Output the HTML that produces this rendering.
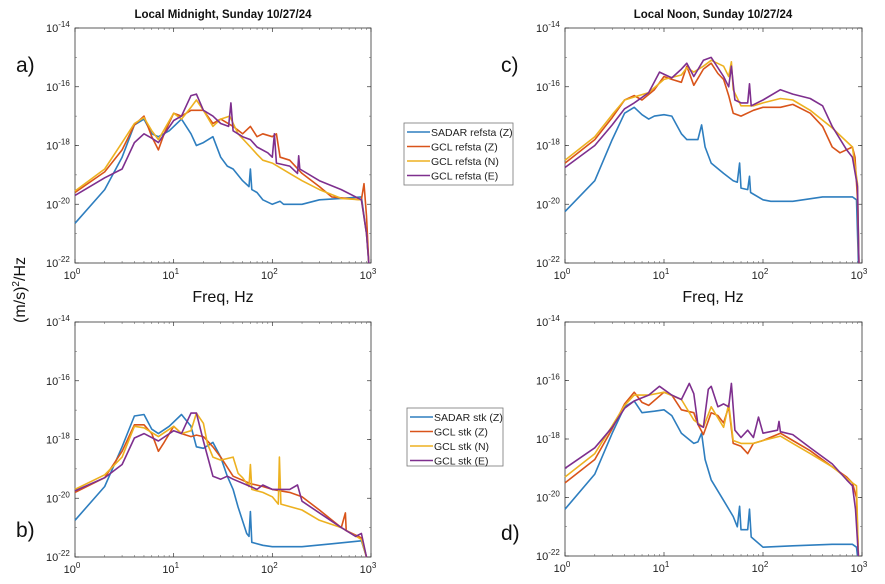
<!DOCTYPE html>
<html><head><meta charset="utf-8"><style>
body{margin:0;background:#fff;width:885px;height:584px;overflow:hidden;font-family:"Liberation Sans",sans-serif}
svg{display:block}
</style></head><body>
<svg id="chart" width="885" height="584" viewBox="0 0 885 584" xmlns="http://www.w3.org/2000/svg" font-family="Liberation Sans, sans-serif"></svg>
<script>
// ---- data: frequency (Hz) and log10 PSD values ----
const aBlueF=[1,2,3,4,5,6,7,9,12,15,17,20,25,30,35,40,50,58,60,62,70,80,100,120,130,200,300,500,800,900,950];
const aBlueV=[-20.65,-19.5,-18.4,-17.3,-17.1,-17.6,-17.7,-17.5,-17.1,-17.6,-18.0,-17.9,-17.7,-18.4,-18.7,-18.8,-19.2,-19.4,-18.8,-19.5,-19.6,-19.85,-20.0,-19.9,-20.0,-20.0,-19.85,-19.8,-19.75,-21,-22];
const aOrangeF=[1,2,3,4,5,6,7,8,10,12,15,20,25,30,40,50,60,70,80,100,110,120,150,200,300,400,800,850,900,950];
const aOrangeV=[-19.6,-18.9,-18.15,-17.3,-17.0,-17.7,-18.15,-17.6,-16.9,-17.0,-16.8,-16.8,-17.25,-17.1,-17.35,-17.6,-17.35,-17.7,-17.6,-17.7,-17.6,-18.4,-18.5,-18.95,-19.4,-19.75,-19.85,-19.3,-20.4,-22];
const aYellowF=[1,2,3,4,5,6,7,10,12,15,17,20,25,30,37,45,60,70,80,100,150,200,300,500,800,900,950];
const aYellowV=[-19.55,-18.8,-17.9,-17.25,-17.05,-17.5,-17.8,-16.9,-17.1,-16.7,-16.45,-16.8,-17.35,-17.1,-17.0,-17.6,-18.05,-18.3,-18.5,-18.6,-18.95,-19.2,-19.5,-19.8,-19.85,-21,-22];
const aPurpleF=[1,2,3,4,5,6,7,10,12,15,17,20,25,30,36,38,40,50,60,70,90,100,105,110,150,180,185,190,300,500,800,900,950];
const aPurpleV=[-19.7,-19.1,-18.8,-17.9,-17.6,-17.75,-17.9,-17.15,-17.0,-16.3,-16.25,-16.8,-17.0,-17.25,-17.35,-16.55,-17.5,-17.7,-17.8,-18.05,-18.25,-18.4,-17.6,-18.6,-18.7,-18.95,-18.35,-18.8,-19.2,-19.5,-19.85,-21,-22];

const bBlueF=[1,2,3,4,5,6,7,9,12,15,17,20,25,30,35,40,45,55,58,60,62,80,100,200,400,800,900];
const bBlueV=[-20.75,-19.6,-18.25,-17.2,-17.15,-17.65,-17.8,-17.55,-17.15,-17.55,-18.25,-18.3,-18.1,-18.6,-19.25,-19.7,-20.3,-21.2,-21.3,-20.45,-21.5,-21.6,-21.65,-21.65,-21.55,-21.45,-22];
const bOrangeF=[1,2,3,4,5,6,7,8,10,12,15,17,20,25,30,40,60,80,100,150,200,300,500,550,560,800,900];
const bOrangeV=[-19.8,-19.3,-18.4,-17.5,-17.5,-17.8,-18.4,-18.1,-17.55,-17.8,-17.9,-17.85,-17.9,-18.25,-18.6,-19.25,-19.5,-19.6,-19.7,-19.8,-19.95,-20.4,-21,-20.5,-21.1,-21.35,-22];
const bYellowF=[1,2,3,4,5,7,10,12,15,17,20,22,25,30,40,45,50,58,60,62,80,100,115,118,122,200,300,500,800,900];
const bYellowV=[-19.7,-19.2,-18.6,-17.55,-17.6,-17.9,-17.55,-17.8,-17.7,-17.1,-17.45,-18.15,-18.6,-18.7,-18.6,-19.15,-19.3,-19.6,-18.85,-19.7,-19.8,-19.95,-20.2,-18.6,-20.2,-20.4,-20.75,-21,-21.4,-22];
const bPurpleF=[1,2,3,4,5,7,10,12,15,17,20,25,30,35,40,60,70,80,100,150,180,200,300,500,700,800,900];
const bPurpleV=[-19.75,-19.3,-18.85,-17.95,-17.8,-18.05,-17.7,-17.8,-17.1,-17.1,-18.05,-19.25,-19.35,-19.25,-19.35,-19.6,-19.7,-19.55,-19.7,-19.7,-19.55,-20.1,-20.5,-21,-21.3,-21.2,-22];

const cBlueF=[1,2,3,4,5,6,7,8,10,12,15,17,20,22,24,26,30,40,50,55,58,60,70,73,75,100,120,200,400,800,880,920];
const cBlueV=[-20.25,-19.2,-17.8,-16.9,-16.7,-16.95,-17.1,-17.0,-16.95,-17.0,-17.6,-17.8,-17.8,-17.8,-17.3,-18.05,-18.6,-18.95,-19.2,-19.25,-18.6,-19.45,-19.5,-19.05,-19.6,-19.85,-19.9,-19.9,-19.75,-19.75,-19.85,-22];
const cOrangeF=[1,2,3,4,5,6,8,10,12,15,17,20,25,30,35,40,45,50,60,80,100,150,200,300,400,500,600,800,850,900,930];
const cOrangeV=[-18.6,-17.8,-17.05,-16.45,-16.3,-16.45,-16.1,-15.65,-15.75,-15.85,-15.3,-15.95,-15.4,-15.2,-15.55,-15.75,-16.3,-16.9,-17.0,-16.8,-16.7,-16.7,-16.6,-16.9,-17.35,-18.05,-18.25,-18.05,-18.4,-19.85,-22];
const cYellowF=[1,2,3,4,5,7,10,15,17,20,25,30,40,45,48,50,60,80,100,150,200,300,500,800,900,930];
const cYellowV=[-18.5,-17.7,-16.95,-16.45,-16.35,-16.2,-15.75,-15.6,-15.35,-15.5,-15.3,-15.1,-15.3,-15.65,-15.15,-16.1,-16.65,-16.65,-16.55,-16.4,-16.45,-16.8,-17.4,-18.05,-19.3,-22];
const cPurpleF=[1,2,3,4,5,7,9,12,15,17,20,25,30,40,45,48,52,60,70,73,76,100,150,200,300,400,500,700,800,900,930];
const cPurpleV=[-18.75,-18.0,-17.3,-16.75,-16.55,-16.2,-15.5,-15.7,-15.4,-15.2,-15.65,-15.1,-15.0,-15.65,-16.0,-15.3,-16.45,-16.55,-16.55,-15.9,-16.65,-16.45,-16.1,-16.25,-16.4,-16.65,-17.35,-18.15,-18.4,-19.4,-22];

const dBlueF=[1,2,3,4,5,6,8,10,12,15,20,22,24,26,30,40,50,55,58,60,70,73,76,100,200,500,800,880,900];
const dBlueV=[-20.4,-19.2,-17.8,-16.9,-16.7,-17.1,-17.05,-17.0,-17.2,-17.8,-18.15,-18.1,-17.8,-18.7,-19.4,-20.1,-20.65,-21.0,-20.3,-21.1,-21.1,-20.4,-21.35,-21.7,-21.65,-21.6,-21.6,-21.7,-22];
const dOrangeF=[1,2,3,4,5,6,7,10,12,15,20,22,25,30,35,40,45,50,60,70,80,100,150,200,300,500,700,800,880,920];
const dOrangeV=[-19.5,-18.7,-17.65,-16.8,-16.4,-16.75,-16.85,-16.4,-16.5,-17.0,-17.1,-17.5,-17.85,-17.1,-17.2,-17.45,-16.9,-18.15,-18.25,-18.5,-18.15,-18.05,-17.8,-18.05,-18.4,-18.95,-19.3,-19.5,-20.0,-22];
const dYellowF=[1,2,3,4,5,7,10,15,20,25,30,40,45,50,60,80,100,150,200,300,500,800,880,920];
const dYellowV=[-19.3,-18.5,-17.55,-16.85,-16.5,-16.5,-16.4,-16.65,-17.35,-17.6,-16.9,-17.6,-16.8,-18.05,-18.15,-18.15,-18.05,-17.9,-18.15,-18.5,-18.95,-19.5,-19.6,-22];
const dPurpleF=[1,2,3,4,5,7,9,12,15,18,20,22,25,28,30,35,40,45,48,52,60,70,80,90,100,140,145,150,200,300,500,700,800,860,920];
const dPurpleV=[-19.0,-18.3,-17.6,-16.95,-16.7,-16.5,-16.2,-16.5,-16.65,-16.1,-16.45,-17.5,-17.6,-16.3,-16.2,-16.9,-16.8,-16.9,-16.1,-17.7,-17.95,-17.7,-17.95,-17.25,-17.8,-17.7,-17.4,-17.75,-17.85,-18.3,-18.85,-19.4,-19.6,-20.4,-22];

const xTicks=[0,1,2,3];
const yTicks=[-14,-16,-18,-20,-22];
const legendTop=["SADAR refsta (Z)","GCL refsta (Z)","GCL refsta (N)","GCL refsta (E)"];
const legendBot=["SADAR stk (Z)","GCL stk (Z)","GCL stk (N)","GCL stk (E)"];
const colors=["#2e7ebf","#d9541a","#edb120","#7e2f8e"];

const NS="http://www.w3.org/2000/svg";
const svg=document.getElementById('chart');
function mk(tag,attrs,parent){const e=document.createElementNS(NS,tag);for(const k in attrs)e.setAttribute(k,attrs[k]);(parent||svg).appendChild(e);return e;}

const panels=[
 {id:'a',L:75,R:371,T:28,B:263,series:[[aBlueF,aBlueV],[aOrangeF,aOrangeV],[aYellowF,aYellowV],[aPurpleF,aPurpleV]]},
 {id:'b',L:75,R:371,T:322,B:557,series:[[bBlueF,bBlueV],[bOrangeF,bOrangeV],[bYellowF,bYellowV],[bPurpleF,bPurpleV]]},
 {id:'c',L:565,R:862,T:28,B:263,series:[[cBlueF,cBlueV],[cOrangeF,cOrangeV],[cYellowF,cYellowV],[cPurpleF,cPurpleV]]},
 {id:'d',L:565,R:862,T:322,B:556,series:[[dBlueF,dBlueV],[dOrangeF,dOrangeV],[dYellowF,dYellowV],[dPurpleF,dPurpleV]]}
];
const seriesNames=['sadar','gcl-z','gcl-n','gcl-e'];

panels.forEach(p=>{
  const g=mk('g',{});
  
  
  const xs=f=>p.L+Math.log10(f)/3*(p.R-p.L);
  const ys=v=>p.T+(-14-v)/8*(p.B-p.T);
  const box=mk('rect',{x:p.L,y:p.T,width:p.R-p.L,height:p.B-p.T,fill:'none',stroke:'#333','stroke-width':0.8},g);
  
  
  // x minor ticks
  for(let d=0;d<3;d++)for(let m=2;m<10;m++){const x=xs(m*Math.pow(10,d));
    mk('line',{x1:x,x2:x,y1:p.B,y2:p.B-2,stroke:'#555','stroke-width':0.5},g);
    mk('line',{x1:x,x2:x,y1:p.T,y2:p.T+2,stroke:'#555','stroke-width':0.5},g);}
  xTicks.forEach(t=>{const x=xs(Math.pow(10,t));
    mk('line',{x1:x,x2:x,y1:p.B,y2:p.B-4,stroke:'#333','stroke-width':0.7},g);
    mk('line',{x1:x,x2:x,y1:p.T,y2:p.T+4,stroke:'#333','stroke-width':0.7},g);
    const tx=mk('text',{x:x-3,y:p.B+16,'font-size':11,fill:'#222','text-anchor':'middle'},g);
    
    
    tx.innerHTML='10<tspan dy="-5" font-size="8">'+t+'</tspan>';});
  for(let v=-15;v>=-21;v--){const y=ys(v);
    mk('line',{x1:p.L,x2:p.L+2,y1:y,y2:y,stroke:'#555','stroke-width':0.5},g);
    mk('line',{x1:p.R,x2:p.R-2,y1:y,y2:y,stroke:'#555','stroke-width':0.5},g);}
  yTicks.forEach(t=>{const y=ys(t);
    mk('line',{x1:p.L,x2:p.L+4,y1:y,y2:y,stroke:'#333','stroke-width':0.7},g);
    mk('line',{x1:p.R,x2:p.R-4,y1:y,y2:y,stroke:'#333','stroke-width':0.7},g);
    const tx=mk('text',{x:p.L-29,y:y+4,'font-size':11,fill:'#222'},g);
    
    
    tx.innerHTML='10<tspan dy="-5" font-size="8">'+t+'</tspan>';});
  p.series.forEach((s,i)=>{
    const [F,V]=s;
    const d=F.map((f,k)=>(k?'L':'M')+xs(f).toFixed(1)+','+ys(V[k]).toFixed(1)).join('');
    const path=mk('path',{d:d,fill:'none',stroke:colors[i],'stroke-width':1.6,'stroke-linejoin':'round'},g);
    
    
  });
});

function text(x,y,str,attrs,name){const t=mk('text',Object.assign({x:x,y:y},attrs));t.textContent=str;
  
  return t;}
text(223,18,'Local Midnight, Sunday 10/27/24',{'font-size':11.5,'font-weight':'bold','text-anchor':'middle',fill:'#111'},'title-midnight');
text(713,18,'Local Noon, Sunday 10/27/24',{'font-size':11.5,'font-weight':'bold','text-anchor':'middle',fill:'#111'},'title-noon');
text(223,302,'Freq, Hz',{'font-size':16,'text-anchor':'middle',fill:'#111'},'x-axis-title-left');
text(713,302,'Freq, Hz',{'font-size':16,'text-anchor':'middle',fill:'#111'},'x-axis-title-right');
text(16,72,'a)',{'font-size':21,fill:'#111'},'panel-label-a');
text(16,537,'b)',{'font-size':21,fill:'#111'},'panel-label-b');
text(501,72,'c)',{'font-size':21,fill:'#111'},'panel-label-c');
text(501,540,'d)',{'font-size':21,fill:'#111'},'panel-label-d');
const yl=mk('text',{x:0,y:0,'font-size':16,'text-anchor':'middle',fill:'#111',transform:'translate(25,290) rotate(-90)'});


yl.innerHTML='(m/s)<tspan dy="-6" font-size="10">2</tspan><tspan dy="6">/Hz</tspan>';

function legend(x,y,w,h,labels,name){
  const g=mk('g',{});
  
  
  mk('rect',{x:x,y:y,width:w,height:h,fill:'#fff',stroke:'#777','stroke-width':0.8},g);
  labels.forEach((l,i)=>{const yy=y+9+i*14.5;
    const ln=mk('line',{x1:x+3,x2:x+26,y1:yy,y2:yy,stroke:colors[i],'stroke-width':1.6},g);
    
    
    const t=mk('text',{x:x+27,y:yy+4,'font-size':10.5,fill:'#222'},g);t.textContent=l;
    
    });
}
legend(404,123,109,62,legendTop,'legend-top');
legend(407,408,96,58,legendBot,'legend-bottom');
</script>
</body></html>
